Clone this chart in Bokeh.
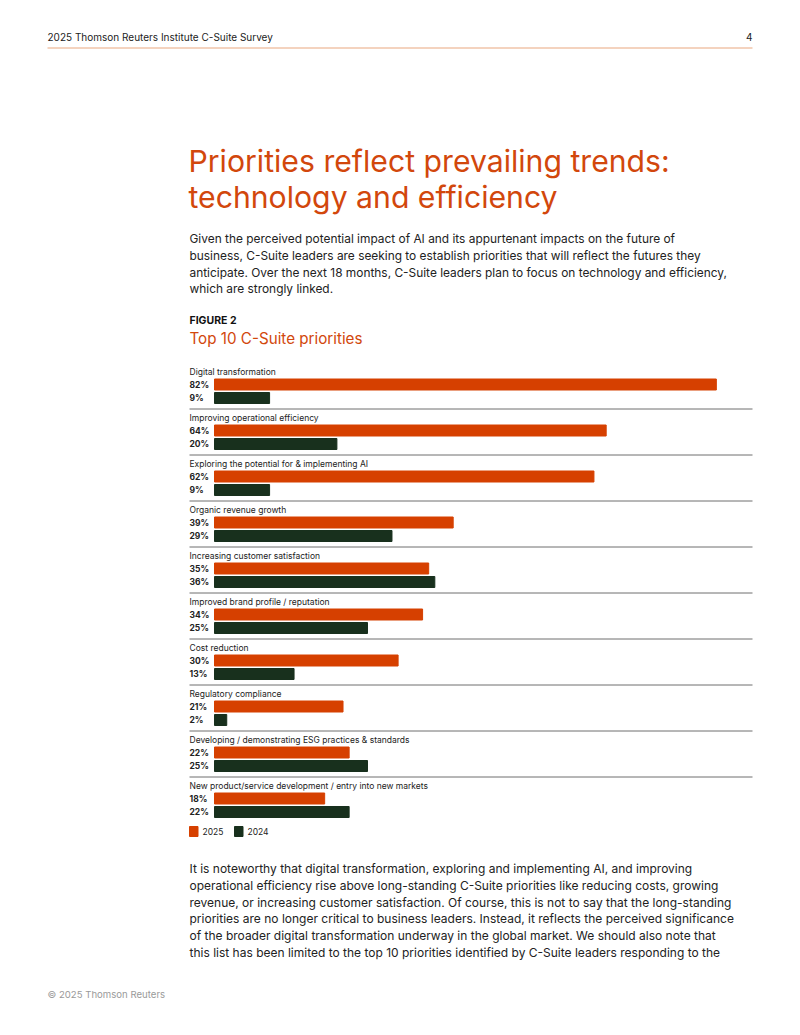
from bokeh.plotting import figure
from bokeh.models import Range1d, ColumnDataSource
from bokeh.core.properties import value
from bokeh.embed import file_html
from bokeh.resources import INLINE

# ---- data -------------------------------------------------------------
categories = [
    "Digital transformation",
    "Improving operational efficiency",
    "Exploring the potential for & implementing AI",
    "Organic revenue growth",
    "Increasing customer satisfaction",
    "Improved brand profile / reputation",
    "Cost reduction",
    "Regulatory compliance",
    "Developing / demonstrating ESG practices & standards",
    "New product/service development / entry into new markets",
]
values_2025 = [82, 64, 62, 39, 35, 34, 30, 21, 22, 18]
values_2024 = [9, 20, 9, 29, 36, 25, 13, 2, 25, 22]
series_names = ["2025", "2024"]

title_lines = ["Priorities reflect prevailing trends:", "technology and efficiency"]
intro_lines = [
    "Given the perceived potential impact of AI and its appurtenant impacts on the future of",
    "business, C-Suite leaders are seeking to establish priorities that will reflect the futures they",
    "anticipate. Over the next 18 months, C-Suite leaders plan to focus on technology and efficiency,",
    "which are strongly linked.",
]
outro_lines = [
    "It is noteworthy that digital transformation, exploring and implementing AI, and improving",
    "operational efficiency rise above long-standing C-Suite priorities like reducing costs, growing",
    "revenue, or increasing customer satisfaction. Of course, this is not to say that the long-standing",
    "priorities are no longer critical to business leaders. Instead, it reflects the perceived significance",
    "of the broader digital transformation underway in the global market. We should also note that",
    "this list has been limited to the top 10 priorities identified by C-Suite leaders responding to the",
]

# ---- styling ----------------------------------------------------------
ORANGE = "#d64000"
TITLE_ORANGE = "#d2470c"
DARK_GREEN = "#18301d"
TEXT = "#222222"
FONT = value("Inter")

W, H = 800, 1035
BAR_X0 = 214          # page x where 0% sits
PX_PER_PCT = 6.12     # page pixels per percentage point


def px(x):
    """page pixel -> percent units of the horizontal scale"""
    return (x - BAR_X0) / PX_PER_PCT


p = figure(width=W, height=H, output_backend="svg", toolbar_location=None,
           x_range=Range1d(px(0), px(W)), y_range=Range1d(H, 0),
           min_border=0, outline_line_color=None)
p.axis.visible = False
p.grid.visible = False
p.background_fill_color = "white"
p.border_fill_color = "white"


def txt(x, y, s, size, color=TEXT, weight="normal", align="left"):
    p.text(x=[px(x)], y=[y], text=[s], text_font=FONT, text_font_size=f"{size}px",
           text_color=color, text_font_style=weight, text_align=align,
           text_baseline="middle")


# header / footer
txt(47, 36, "2025 Thomson Reuters Institute C-Suite Survey", 10)
txt(752, 36, "4", 10, align="right")
p.segment(x0=[px(47)], x1=[px(752)], y0=[47.5], y1=[47.5], line_color="#e9a77f", line_width=1)
txt(47, 994, "\u00a9 2025 Thomson Reuters", 9.6, color="#9a9a9a")

# headline and intro
for i, line in enumerate(title_lines):
    txt(188, 160 + 36 * i, line, 30.2, color=TITLE_ORANGE)
for i, line in enumerate(intro_lines):
    txt(189, 238 + 16.8 * i, line, 11.9)
txt(189, 320, "FIGURE 2", 10.5, weight="bold", color="#111111")
txt(189, 338, "Top 10 C-Suite priorities", 15.2, color=TITLE_ORANGE)

# ---- bar chart --------------------------------------------------------
ROW0, PITCH = 371, 46
n = len(categories)
rows = [ROW0 + PITCH * i for i in range(n)]
src = ColumnDataSource(dict(
    cat=categories,
    y_cat=rows,
    y25=[r + 13 for r in rows],
    y24=[r + 26.5 for r in rows],
    v25=values_2025,
    v24=values_2024,
    l25=[f"{v}%" for v in values_2025],
    l24=[f"{v}%" for v in values_2024],
    lx=[px(189)] * n,
))

p.hbar(y="y25", left=0, right="v25", height=11, color=ORANGE, source=src)
p.hbar(y="y24", left=0, right="v24", height=11, color=DARK_GREEN, source=src)

p.text(x="lx", y="y_cat", text="cat", source=src, text_font=FONT, text_font_size="8.5px",
       text_color=TEXT, text_baseline="middle")
p.text(x="lx", y="y25", text="l25", source=src, text_font=FONT, text_font_size="8.5px",
       text_color=TEXT, text_font_style="bold", text_baseline="middle")
p.text(x="lx", y="y24", text="l24", source=src, text_font=FONT, text_font_size="8.5px",
       text_color=TEXT, text_font_style="bold", text_baseline="middle")

# separators between groups
sep_y = [r + 37.5 for r in rows[:-1]]
p.segment(x0=[px(189)] * len(sep_y), x1=[px(752)] * len(sep_y), y0=sep_y, y1=sep_y,
          line_color="#6f6f6f", line_width=1)

# legend
leg_y = 831
for name, color, x in zip(series_names, [ORANGE, DARK_GREEN], [189, 234]):
    p.quad(left=[px(x)], right=[px(x + 8.5)], top=[leg_y - 5], bottom=[leg_y + 5], color=color)
    txt(x + 13, leg_y, name, 8.5)

# closing paragraph
for i, line in enumerate(outro_lines):
    txt(189, 868 + 16.8 * i, line, 12.0)

open("out.html", "w").write(file_html(p, INLINE))
